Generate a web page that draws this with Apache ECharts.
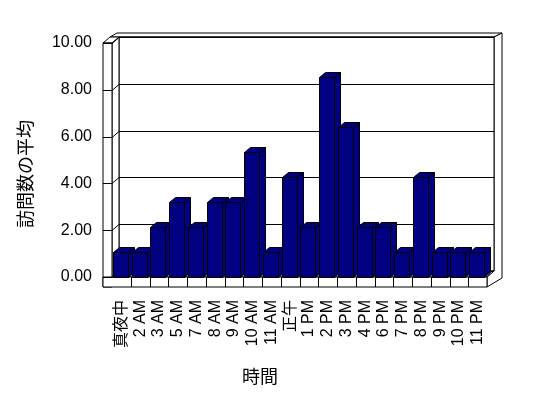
<!DOCTYPE html>
<html><head><meta charset="utf-8">
<script src="https://cdn.jsdelivr.net/npm/echarts@6/dist/echarts.min.js"></script>
<style>html,body{margin:0;padding:0;background:#fff}#c{width:548px;height:398px}</style>
</head><body><div id="c"></div>
<script>
const categories = ['真夜中','2 AM','3 AM','5 AM','7 AM','8 AM','9 AM','10 AM','11 AM','正午','1 PM','2 PM','3 PM','4 PM','6 PM','7 PM','8 PM','9 PM','10 PM','11 PM'];
const visits = [1.07,1.07,2.13,3.20,2.13,3.20,3.20,5.33,1.07,4.27,2.13,8.53,6.40,2.13,2.13,1.07,4.27,1.07,1.07,1.07];
const yTicks = [0,2,4,6,8,10];
const yTitle = '訪問数の平均';
const xTitle = '時間';

const FONT_LAT = '"Liberation Sans", "Noto Sans CJK JP", sans-serif';
const FONT_CJK = '"Noto Sans CJK JP", sans-serif';
const WDX = 7, WDY = -6;   // wall depth
const BDX = 6, BDY = -5;   // bar depth
const LW = 9, FL = 10;     // wall / floor thickness
const line = {stroke:'#000', lineWidth:1, fill:null};
const face = {stroke:'#000', lineWidth:1, fill:'#fff'};

function poly(pts, style){ return {type:'polygon', shape:{points:pts}, style:style}; }
function pl(pts){ return {type:'polyline', shape:{points:pts}, style:line}; }

const chart = echarts.init(document.getElementById('c'), null, {renderer:'canvas'});
chart.setOption({
  animation:false,
  backgroundColor:'#fff',
  grid:{left:112, top:43, width:375, height:234},
  xAxis:{type:'category', data:categories,
    axisLine:{show:false}, axisTick:{show:false}, splitLine:{show:false},
    axisLabel:{interval:0, rotate:90, margin:23, fontSize:16, color:'#000', fontFamily:FONT_LAT}},
  yAxis:{type:'value', min:0, max:10, interval:2,
    axisLine:{show:false}, axisTick:{show:false}, splitLine:{show:false},
    axisLabel:{margin:20, fontSize:16, color:'#000', fontFamily:FONT_LAT, formatter:v=>v.toFixed(2)}},
  graphic:[
    {type:'text', x:25, y:174, rotation:Math.PI/2, style:{text:yTitle, font:'18px '+FONT_CJK, fill:'#000', align:'center', verticalAlign:'middle'}},
    {type:'text', x:260, y:376, style:{text:xTitle, font:'18px '+FONT_CJK, fill:'#000', align:'center', verticalAlign:'middle'}}
  ],
  series:[
    { // frame: walls and floor
      type:'custom', z:1, silent:true, data:[0],
      renderItem:function(params, api){
        const cs = params.coordSys; const x=cs.x, y=cs.y, w=cs.width, h=cs.height;
        const band = api.size([1,0])[0];
        const ch = [];
        ch.push(poly([[x-2,y+WDY],[x+5,y-10],[x+w+15,y-10],[x+w+WDX,y+WDY]], face));
        ch.push(poly([[x+w+WDX,y+WDY],[x+w+15,y-10],[x+w+15,y+h+1],[x+w,y+h+FL],[x+w,y+h],[x+w+WDX,y+h+WDY]], face));
        ch.push(poly([[x+WDX,y+WDY],[x+w+WDX,y+WDY],[x+w+WDX,y+h+WDY],[x+WDX,y+h+WDY]], face));
        ch.push(poly([[x,y],[x+WDX,y+WDY],[x+WDX,y+h+WDY],[x,y+h]], face));
        ch.push(poly([[x-LW,y],[x,y],[x+WDX,y+WDY],[x-2,y+WDY]], face));
        ch.push(poly([[x-LW,y],[x,y],[x,y+h+FL],[x-LW,y+h+FL]], face));
        ch.push(poly([[x,y+h],[x+w,y+h],[x+w+WDX,y+h+WDY],[x+WDX,y+h+WDY]], face));
        ch.push(poly([[x-LW,y+h],[x+w,y+h],[x+w,y+h+FL],[x-LW,y+h+FL]], face));
        for(let i=1;i<categories.length;i++){
          const bx = Math.round(x + band*i) + 0.5;
          ch.push(pl([[bx,y+h],[bx,y+h+FL]]));
        }
        return {type:'group', children:ch};
      }
    },
    { // gridlines on back wall and ticks on left wall
      type:'custom', z:2, silent:true, data:yTicks,
      encode:{y:0},
      renderItem:function(params, api){
        const cs = params.coordSys; const x=cs.x, w=cs.width;
        const ty = Math.round(api.coord([0, api.value(0)])[1]) + 0.5;
        return {type:'group', children:[
          pl([[x+WDX, ty+WDY],[x+w+WDX, ty+WDY]]),
          pl([[x-LW, ty],[x, ty],[x+WDX, ty+WDY]])
        ]};
      }
    },
    { // 3D bars
      type:'custom', z:3, silent:true,
      data:visits.map((v,i)=>[i,v]),
      encode:{x:0, y:1},
      renderItem:function(params, api){
        const c = api.coord([api.value(0), api.value(1)]);
        const b = api.coord([api.value(0), 0]);
        const bw = Math.round(api.size([1,0])[0]*0.8);
        const x0 = Math.round(c[0]-bw/2-1)+0.5, x1 = x0+bw;
        const t = Math.round(c[1])+0.5, bt = Math.round(b[1])+0.5;
        const st = {fill:'#000080', stroke:'#000', lineWidth:1};
        return {type:'group', children:[
          poly([[x1,t],[x1+BDX,t+BDY],[x1+BDX,bt+BDY],[x1,bt]], st),
          poly([[x0,t],[x1,t],[x1+BDX,t+BDY],[x0+BDX,t+BDY]], st),
          poly([[x0,t],[x1,t],[x1,bt],[x0,bt]], st)
        ]};
      }
    }
  ]
});
</script></body></html>
